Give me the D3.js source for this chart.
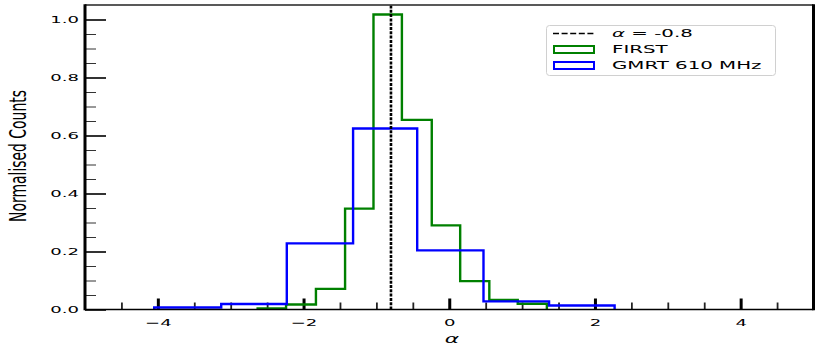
<!DOCTYPE html>
<html>
<head>
<meta charset="utf-8">
<script src="https://cdn.jsdelivr.net/npm/d3@7"></script>
<style>
  body { margin: 0; background: #fff; }
  text { font-family: "DejaVu Sans", sans-serif; }
</style>
</head>
<body>
<div id="chart"></div>
<script>
// data ----------------------------------------------------------------------
const firstEdges = [-2.63, -2.24, -1.83, -1.43, -1.04, -0.65, -0.24, 0.15, 0.55, 0.94, 1.34];
const firstCounts = [0.004, 0.017, 0.071, 0.348, 1.017, 0.654, 0.290, 0.098, 0.033, 0.020];
const gmrtEdges = [-4.05, -3.13, -2.23, -1.32, -0.44, 0.47, 1.37, 2.27];
const gmrtCounts = [0.007, 0.019, 0.228, 0.624, 0.204, 0.028, 0.014];
const alphaRef = -0.8;
const xTicks = [-4, -2, 0, 2, 4];
const yTicks = [0, 0.2, 0.4, 0.6, 0.8, 1.0];
const legendItems = ['FIRST', 'GMRT 610 MHz'];
const seriesColors = ['green', 'blue'];

// layout ----------------------------------------------------------------------
const width = 830, height = 346;
const mLeft = 85, mRight = 813.5, mTop = 5, mBottom = 309.5;
const sx = 1.9; // the reference is stretched sideways

const svg = d3.select('#chart').append('svg')
  .attr('width', width)
  .attr('height', height);

const x = d3.scaleLinear().domain([-5, 5]).range([mLeft, mRight]);
const y = d3.scaleLinear().domain([0, 1.05]).range([mBottom, mTop]);

// minor ticks -----------------------------------------------------------------
const xMinor = x.ticks(20).filter(v => !xTicks.includes(v) && v > -5 && v < 5);
const yMinor = y.ticks(20).filter(v => !yTicks.some(t => Math.abs(t - v) < 1e-9) && v < 1.05);

svg.append('g')
  .attr('transform', 'translate(0,' + mBottom + ')')
  .call(d3.axisBottom(x).tickValues(xMinor).tickSize(-7).tickFormat(''))
  .call(g => g.select('.domain').remove())
  .call(g => g.selectAll('line').attr('stroke', '#222').attr('stroke-width', 1.8));

svg.append('g')
  .attr('transform', 'translate(' + mLeft + ',0)')
  .call(d3.axisLeft(y).tickValues(yMinor).tickSize(-11).tickFormat(''))
  .call(g => g.select('.domain').remove())
  .call(g => g.selectAll('line').attr('stroke', '#333').attr('stroke-width', 1));

// major ticks -----------------------------------------------------------------
svg.append('g')
  .attr('transform', 'translate(0,' + mBottom + ')')
  .call(d3.axisBottom(x).tickValues(xTicks).tickSize(-11).tickFormat(d => d < 0 ? '\u2212' + Math.abs(d) : d))
  .call(g => g.select('.domain').remove())
  .call(g => g.selectAll('line').attr('stroke', '#000').attr('stroke-width', 3))
  .call(g => g.selectAll('text')
    .attr('y', 0).attr('dy', null)
    .attr('transform', 'translate(0,16) scale(' + sx + ',1)')
    .attr('font-size', 9.5).attr('fill', '#000'));

svg.append('g')
  .attr('transform', 'translate(' + mLeft + ',0)')
  .call(d3.axisLeft(y).tickValues(yTicks).tickSize(-21).tickFormat(d3.format('.1f')))
  .call(g => g.select('.domain').remove())
  .call(g => g.selectAll('line').attr('stroke', '#000').attr('stroke-width', 1.6))
  .call(g => g.selectAll('text')
    .attr('x', 0).attr('dy', '0.35em')
    .attr('transform', 'translate(-6,0) scale(' + sx + ',1)')
    .attr('font-size', 9.5).attr('fill', '#000'));

// histograms ------------------------------------------------------------------
const stepPath = (edges, counts) => {
  const p = d3.path();
  p.moveTo(x(edges[0]), y(0));
  counts.forEach((c, i) => {
    p.lineTo(x(edges[i]), y(c));
    p.lineTo(x(edges[i + 1]), y(c));
  });
  p.lineTo(x(edges[edges.length - 1]), y(0));
  return p.toString();
};

[[firstEdges, firstCounts], [gmrtEdges, gmrtCounts]].forEach((s, i) => {
  svg.append('path')
    .attr('d', stepPath(s[0], s[1]))
    .attr('fill', 'none')
    .attr('stroke', seriesColors[i])
    .attr('stroke-width', 2.4)
    .attr('stroke-linejoin', 'miter');
});

// dashed line on top
svg.append('line')
  .attr('x1', x(alphaRef)).attr('x2', x(alphaRef))
  .attr('y1', y(0)).attr('y2', mTop)
  .attr('stroke', '#000').attr('stroke-width', 2.6)
  .attr('stroke-dasharray', '3,1.3');

// frame -----------------------------------------------------------------------
svg.append('line').attr('x1', mLeft).attr('x2', mRight).attr('y1', mTop).attr('y2', mTop)
  .attr('stroke', '#222').attr('stroke-width', 1.6);
svg.append('line').attr('x1', mLeft).attr('x2', mRight).attr('y1', mBottom).attr('y2', mBottom)
  .attr('stroke', '#000').attr('stroke-width', 1.6);
svg.append('line').attr('x1', mLeft).attr('x2', mLeft).attr('y1', mTop - 0.8).attr('y2', mBottom + 0.8)
  .attr('stroke', '#000').attr('stroke-width', 3);
svg.append('line').attr('x1', mRight).attr('x2', mRight).attr('y1', mTop - 0.8).attr('y2', mBottom + 0.8)
  .attr('stroke', '#000').attr('stroke-width', 3);

// axis labels -----------------------------------------------------------------
svg.append('text')
  .attr('transform', 'translate(452,343) scale(' + sx + ',1)')
  .attr('text-anchor', 'middle')
  .attr('font-size', 11.5)
  .attr('font-style', 'italic')
  .text('\u03b1');

svg.append('text')
  .attr('transform', 'translate(25.5,156) rotate(-90)')
  .attr('text-anchor', 'middle')
  .attr('font-family', '"Liberation Sans", sans-serif')
  .attr('font-size', 22.5)
  .attr('textLength', 132)
  .attr('lengthAdjust', 'spacingAndGlyphs')
  .text('Normalised Counts');

// legend ----------------------------------------------------------------------
const lg = svg.append('g');
lg.append('rect')
  .attr('x', 546.5).attr('y', 25.5).attr('width', 229).attr('height', 50)
  .attr('rx', 3).attr('fill', '#fff').attr('stroke', '#d0d0d0').attr('stroke-width', 1);
lg.append('line')
  .attr('x1', 553).attr('x2', 596).attr('y1', 33.5).attr('y2', 33.5)
  .attr('stroke', '#000').attr('stroke-width', 1.5)
  .attr('stroke-dasharray', '6,2.6');
const t0 = lg.append('text')
  .attr('transform', 'translate(612,37.3) scale(1.8,1)')
  .attr('font-size', 11);
t0.append('tspan').attr('font-style', 'italic').text('\u03b1');
t0.append('tspan').text(' = -0.8');
legendItems.forEach((name, i) => {
  lg.append('rect')
    .attr('x', 554).attr('y', 46 + i * 16).attr('width', 40).attr('height', 7)
    .attr('fill', 'none').attr('stroke', seriesColors[i]).attr('stroke-width', 2);
  lg.append('text')
    .attr('transform', 'translate(612,' + (53.3 + i * 16) + ') scale(1.8,1)')
    .attr('font-size', 11)
    .text(name);
});
</script>
</body>
</html>
